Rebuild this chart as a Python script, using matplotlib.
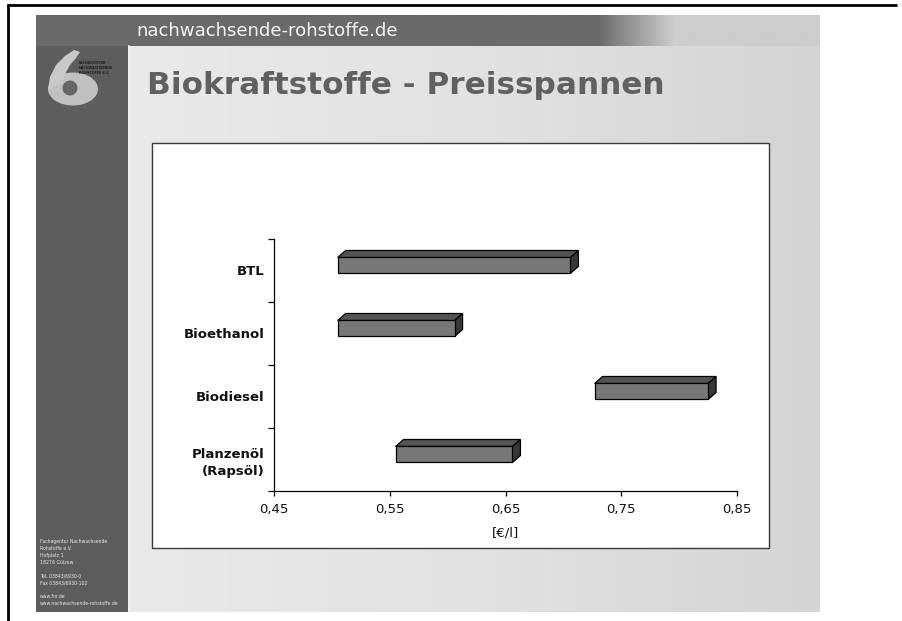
import numpy as np
import matplotlib
matplotlib.use("Agg")
import matplotlib.pyplot as plt
from matplotlib.patches import Rectangle, Polygon, Ellipse, Circle
from matplotlib.colors import LinearSegmentedColormap

# ---- data ----
categories = ["BTL", "Bioethanol", "Biodiesel", "Planzenöl\n(Rapsöl)"]
price_low = [0.505, 0.505, 0.727, 0.555]
price_high = [0.706, 0.606, 0.825, 0.656]
xticks = [0.45, 0.55, 0.65, 0.75, 0.85]
xtick_labels = ["0,45", "0,55", "0,65", "0,75", "0,85"]
x_label = "[€/l]"
title = "Biokraftstoffe - Preisspannen"
header = "nachwachsende-rohstoffe.de"
logo_text = "FACHAGENTUR\nNACHWACHSENDE\nROHSTOFFE E.V."
contact = ["Fachagentur Nachwachsende", "Rohstoffe e.V.", "Hofplatz 1", "18276 Gülzow", "",
           "Tel. 03843/6930-0", "Fax 03843/6930-102", "", "www.fnr.de",
           "www.nachwachsende-rohstoffe.de"]

W, H = 902, 621
fig = plt.figure(figsize=(W / 100, H / 100), dpi=100)
fig.patch.set_facecolor("white")

# ---- background slide (pixel coordinates) ----
bg = fig.add_axes([0, 0, 1, 1], zorder=0)
bg.set_xlim(0, W)
bg.set_ylim(H, 0)
bg.axis("off")

bg.add_patch(Rectangle((36, 15), 784, 597, color="#d5d5d5", lw=0))
grad = np.linspace(0, 1, 256)[None, :]
cm_title = LinearSegmentedColormap.from_list("t", ["#e9e9e9", "#e2e2e2", "#d4d4d4"])
bg.imshow(grad, extent=(128, 820, 612, 46), aspect="auto", cmap=cm_title, zorder=1)
xs = np.linspace(0, 1, 512)
vals = np.where(xs < 0.68, 0.0, np.clip((xs - 0.68) / 0.11, 0, 1))
cm_head = LinearSegmentedColormap.from_list("h", ["#6a6a6a", "#cdcdcd"])
bg.imshow(vals[None, :], extent=(128, 820, 46, 15), aspect="auto", cmap=cm_head,
          vmin=0, vmax=1, zorder=1)
bg.add_patch(Rectangle((36, 15), 92, 597, color="#5d5d5d", lw=0, zorder=2))
bg.add_patch(Rectangle((36, 15), 92, 31, color="#6a6a6a", lw=0, zorder=2))
bg.plot([128.5, 128.5], [46, 612], color="#f2f2f2", lw=1.2, zorder=3)

# logo: stylised "6" swoosh
bg.add_patch(Ellipse((73, 89), 50, 33, facecolor="#c0c0c0", lw=0, zorder=4))
bg.add_patch(Polygon([(48, 90), (50, 77), (56, 65), (65, 56), (74, 50), (80, 52),
                      (76, 58), (70, 65), (65, 74), (62, 84)],
                     closed=True, facecolor="#c8c8c8", lw=0, zorder=4))
bg.add_patch(Circle((70, 88), 7.5, facecolor="#666666", lw=0, zorder=5))
bg.text(79, 68, logo_text, fontsize=2.4, fontweight="bold", color="#202020",
        ha="left", va="center", zorder=5, linespacing=1.3)

# header text & title
bg.text(136, 31, header, fontsize=13.1, color="#f4f4f4", ha="left", va="center",
        zorder=4, family="DejaVu Sans")
bg.text(147, 86, title, fontsize=22.4, fontweight="bold", color="#606060",
        ha="left", va="center", zorder=4, family="DejaVu Sans")

# contact text
for i, t in enumerate(contact):
    if t:
        bg.text(40, 542 + i * 6.8, t, fontsize=3.3, color="#e8e8e8", ha="left",
                va="center", zorder=4)

# chart box
bg.add_patch(Rectangle((152, 143), 617, 405, facecolor="white", edgecolor="#3a3a3a",
                       lw=1.0, zorder=3))

# outer frame
bg.plot([7, 897], [5, 5], color="black", lw=2, zorder=6, solid_capstyle="butt")
bg.plot([8.3, 8.3], [4, H], color="black", lw=2, zorder=6, solid_capstyle="butt")

# ---- chart axes ----
L, R, T, B = 274, 737, 239, 491
ax = fig.add_axes([L / W, 1 - B / H, (R - L) / W, (B - T) / H], zorder=5)
ax.set_facecolor("none")
n = len(categories)
ax.set_xlim(0.45, 0.85)
ax.set_ylim(n - 0.5, -0.5)

px_x = (0.85 - 0.45) / (R - L)
px_y = n / (B - T)
h = 16 * px_y
off = -5 * px_y
dx = 8 * px_x
dy = 7 * px_y

for i, (s, e) in enumerate(zip(price_low, price_high)):
    yc = i + off
    top = yc - h / 2
    bot = yc + h / 2
    ax.add_patch(Polygon([(s, top), (e, top), (e + dx, top - dy), (s + dx, top - dy)],
                         closed=True, facecolor="#555555", edgecolor="black", lw=0.9, zorder=3))
    ax.add_patch(Polygon([(e, top), (e + dx, top - dy), (e + dx, bot - dy), (e, bot)],
                         closed=True, facecolor="#383838", edgecolor="black", lw=0.9, zorder=3))
    ax.barh(yc, e - s, left=s, height=h, color="#777777", edgecolor="black", lw=0.9, zorder=4)

for sp in ["top", "right"]:
    ax.spines[sp].set_visible(False)
for sp in ["left", "bottom"]:
    ax.spines[sp].set_color("black")
    ax.spines[sp].set_linewidth(0.9)

ax.set_xticks(xticks)
ax.set_xticklabels(xtick_labels, fontsize=9.5, color="#111111")
ax.tick_params(axis="x", direction="out", length=3.5, width=0.9, pad=5)

ax.set_yticks(np.arange(n + 1) - 0.5)
ax.set_yticklabels([])
ax.tick_params(axis="y", which="major", direction="out", length=4, width=0.9)
ax.set_yticks(np.arange(n), minor=True)
ax.set_yticklabels(categories, minor=True, fontsize=9.5, fontweight="bold",
                   color="#111111", linespacing=1.35)
ax.tick_params(axis="y", which="minor", length=0, pad=7)

fig.text(((L + R) / 2) / W, 1 - 533 / H, x_label, fontsize=9.5, ha="center",
         va="center", color="#111111")

fig.savefig("out.png", dpi=100, facecolor=fig.get_facecolor())
